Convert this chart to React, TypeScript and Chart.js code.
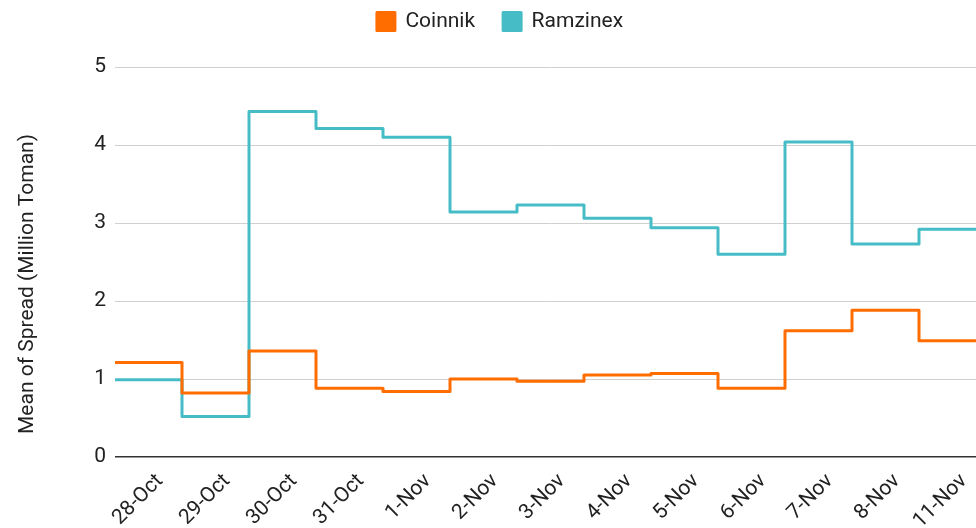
import React, { useEffect, useRef } from 'react';
import { Chart, registerables } from 'chart.js';

Chart.register(...registerables);

const dates = ['28-Oct', '29-Oct', '30-Oct', '31-Oct', '1-Nov', '2-Nov', '3-Nov', '4-Nov', '5-Nov', '6-Nov', '7-Nov', '8-Nov', '11-Nov'];
const coinnik = [1.21, 0.82, 1.36, 0.88, 0.84, 1.0, 0.97, 1.05, 1.07, 0.88, 1.62, 1.88, 1.49];
const ramzinex = [0.99, 0.52, 4.43, 4.21, 4.1, 3.14, 3.23, 3.06, 2.94, 2.6, 4.04, 2.73, 2.92];
const yTicks = [0, 1, 2, 3, 4, 5];
const yTitle = 'Mean of Spread (Million Toman)';

const INNER_W = 1000;
const FONT = 'Roboto';
const FS = 21;
const TEXT = '#222';
const LABEL_SHIFT = 0.17; // slanted labels sit slightly right of band centres
const TOP_PAD = -17;
const AREA_TOP = 67;

// each category holds its value across its whole band (i - 0.5 .. i + 0.5)
function bands(values: number[]) {
  const pts = values.map((v, i) => ({ x: i - 0.5, y: v }));
  pts.push({ x: values.length - 0.5, y: values[values.length - 1] });
  return pts;
}

const yTitlePlugin = {
  id: 'yTitlePlugin',
  afterDraw(chart: any) {
    const ctx = chart.ctx;
    const area = chart.chartArea;
    ctx.save();
    ctx.translate(28, area.top + (area.bottom - area.top) / 2 + 22);
    ctx.rotate(-Math.PI / 2);
    ctx.font = `${FS}px ${FONT}`;
    ctx.fillStyle = TEXT;
    ctx.textAlign = 'center';
    ctx.textBaseline = 'middle';
    ctx.fillText(yTitle, 0, 0);
    ctx.restore();
  },
};

const legendHeightPlugin = {
  id: 'legendHeightPlugin',
  beforeLayout(chart: any) {
    const lg = chart.legend;
    if (lg && !lg.__patched) {
      const orig = lg.fit;
      lg.fit = function () {
        orig.call(this);
        this.height = AREA_TOP - TOP_PAD;
      };
      lg.__patched = true;
    }
  },
};

export default function App() {
  const ref = useRef<HTMLCanvasElement | null>(null);

  useEffect(() => {
    if (!ref.current) return;
    const common = {
      borderWidth: 3,
      stepped: true,
      fill: false,
      pointRadius: 0,
      borderJoinStyle: 'round',
      borderCapStyle: 'round',
    };
    const chart = new Chart(ref.current, {
      type: 'line',
      data: {
        datasets: [
          { label: 'Coinnik', data: bands(coinnik), borderColor: '#ff6d01', backgroundColor: '#ff6d01', ...common },
          { label: 'Ramzinex', data: bands(ramzinex), borderColor: '#46bdc6', backgroundColor: '#46bdc6', ...common },
        ],
      },
      options: {
        animation: false,
        responsive: true,
        maintainAspectRatio: false,
        layout: { padding: { top: TOP_PAD, left: 0, right: 0, bottom: 0 } },
        plugins: {
          legend: {
            position: 'top',
            labels: {
              boxWidth: 18,
              boxHeight: 18,
              padding: 28,
              color: TEXT,
              font: { family: FONT, size: FS },
            },
          },
          tooltip: { enabled: false },
        },
        scales: {
          x: {
            type: 'linear',
            min: -0.5,
            max: dates.length - 0.5,
            grid: { display: false },
            border: { display: false },
            afterBuildTicks: (s: any) => {
              s.ticks = dates.map((_, i) => ({ value: i + LABEL_SHIFT }));
            },
            afterFit: (s: any) => {
              s.height = 71;
              s.paddingLeft = 0;
              s.paddingRight = INNER_W - 986;
            },
            ticks: {
              minRotation: 45,
              maxRotation: 45,
              autoSkip: false,
              padding: 4,
              color: TEXT,
              font: { family: FONT, size: FS },
              callback: (v: any) => dates[Math.round(Number(v) - LABEL_SHIFT)] ?? '',
            },
          },
          y: {
            min: 0,
            max: 5,
            afterBuildTicks: (s: any) => {
              s.ticks = yTicks.map((v) => ({ value: v }));
            },
            afterFit: (s: any) => {
              s.width = 115;
            },
            grid: {
              drawTicks: false,
              color: (c: any) => (c.tick && c.tick.value === 0 ? '#333' : '#d0d0d0'),
              lineWidth: (c: any) => (c.tick && c.tick.value === 0 ? 1.5 : 1),
            },
            border: { display: false },
            ticks: {
              padding: 9,
              color: TEXT,
              font: { family: FONT, size: FS },
            },
          },
        },
      },
      plugins: [legendHeightPlugin, yTitlePlugin],
    } as any);
    return () => chart.destroy();
  }, []);

  return (
    <div
      style={{
        position: 'fixed',
        left: 0,
        top: 0,
        width: 976,
        height: 528,
        overflow: 'hidden',
        background: '#fff',
      }}
    >
      <div style={{ position: 'relative', width: INNER_W, height: 528 }}>
        <canvas ref={ref} />
      </div>
    </div>
  );
}
